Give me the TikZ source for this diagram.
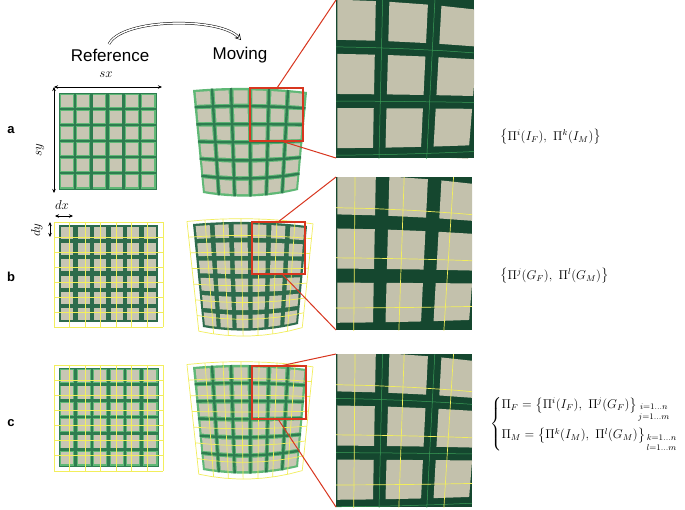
\documentclass[tikz,border=0pt]{standalone}
\usepackage{amsmath}
\usepackage{fontspec}
\newfontfamily\labfont{Liberation Sans}
\usetikzlibrary{arrows.meta}
\definecolor{cellc}{HTML}{C8C6B3}
\definecolor{pcell}{HTML}{C3C1AC}
\definecolor{gL}{HTML}{5FB876}
\definecolor{gD}{HTML}{2E7D50}
\definecolor{gB}{HTML}{2D6B4C}
\definecolor{gP}{HTML}{15472F}
\definecolor{gPl}{HTML}{3AA058}
\definecolor{yel}{HTML}{F2EE5C}
\definecolor{redb}{HTML}{D8361F}
\tikzset{
  hd/.style={font=\labfont\fontsize{17}{20}\selectfont, inner sep=0pt},
  lab/.style={font=\labfont\bfseries\fontsize{13}{15}\selectfont, inner sep=0pt},
  mth/.style={font=\fontsize{12}{14}\selectfont, inner sep=0pt, scale=1.08},
  fml/.style={font=\fontsize{12}{14}\selectfont, inner sep=0pt, anchor=west, scale=1.065},
  dim/.style={{Stealth[length=4pt,width=3.5pt]}-{Stealth[length=4pt,width=3.5pt]}, line width=0.6pt},
  yl/.style={yel, line width=0.7pt},
  redbox/.style={redb, line width=1.3pt},
  redl/.style={redb, line width=1pt},
  core/.style={gD, line width=2.4pt},
}
% reference grid
\newcommand\refgrid[5]{%
  \fill[#5] (#1,#2) rectangle ++(#3,#4);
  \foreach \i in {0,...,5}{\foreach \j in {0,...,5}{
    \fill[cellc] ({#1+(\i+0.13)*#3/6},{#2+(\j+0.13)*#4/6}) rectangle ({#1+(\i+0.87)*#3/6},{#2+(\j+0.87)*#4/6});}}}
\newcommand\reflines[5]{%
  \foreach \i in {1,...,5}{
    \draw[#5] ({#1+\i*#3/6},#2) -- ++(0,#4);
    \draw[#5] (#1,{#2+\i*#4/6}) -- ++(#3,0);}}
\newcommand\refyel[4]{%
  \foreach \k in {0,...,7}{
    \draw[yl] ({#1-0.05*#3+\k*1.1*#3/7},{#2-0.03*#4}) -- ++(0,{1.08*#4});
    \draw[yl] ({#1-0.05*#3},{#2-0.03*#4+\k*1.08*#4/7}) -- ++({1.1*#3},0);}}
% moving grid
\newcommand\movfill[2]{%
  \fill[#2] plot[domain=0:1,samples=13] ({MX(\x,0)},{MY(\x,0)+#1})
   -- plot[domain=0:1,samples=13] ({MX(1,\x)},{MY(1,\x)+#1})
   -- plot[domain=1:0,samples=13] ({MX(\x,1)},{MY(\x,1)+#1})
   -- plot[domain=1:0,samples=13] ({MX(0,\x)},{MY(0,\x)+#1}) -- cycle;}
\newcommand\movcells[2]{%
  \foreach \i in {0,...,5}{\foreach \j in {0,...,5}{
    \pgfmathsetmacro\ua{(\i+0.13)/6}\pgfmathsetmacro\ub{(\i+0.87)/6}%
    \pgfmathsetmacro\va{(\j+0.13)/6}\pgfmathsetmacro\vb{(\j+0.87)/6}%
    \fill[#2] ({MX(\ua,\va)},{MY(\ua,\va)+#1}) -- ({MX(\ub,\va)},{MY(\ub,\va)+#1})
      -- ({MX(\ub,\vb)},{MY(\ub,\vb)+#1}) -- ({MX(\ua,\vb)},{MY(\ua,\vb)+#1}) -- cycle;}}}
\newcommand\movlines[2]{%
  \foreach \i in {1,...,5}{
    \draw[#2] plot[domain=0:1,samples=9] ({MX(\i/6,\x)},{MY(\i/6,\x)+#1});
    \draw[#2] plot[domain=0:1,samples=9] ({MX(\x,\i/6)},{MY(\x,\i/6)+#1});}}
\newcommand\movyel[1]{%
  \foreach \k in {0,...,7}{
    \pgfmathsetmacro\tk{-0.05+\k*1.1/7}%
    \pgfmathsetmacro\tv{-0.03+\k*1.08/7}%
    \draw[yl] plot[domain=-0.03:1.05,samples=9] ({MX(\tk,\x)},{MY(\tk,\x)+#1});
    \draw[yl] plot[domain=-0.05:1.05,samples=9] ({MX(\x,\tv)},{MY(\x,\tv)+#1});}}
\begin{document}
\begin{tikzpicture}[x=1pt,y=-1pt,
  declare function={
    MX(\u,\v)=193+10*\v+\u*(114-19*\v);
    MY(\u,\v)=90+2*\u+\v*(103-5*\u)-12*\u*(1-\u)*(1-\v)+20*\u*(1-\u)*\v;
  }]
\useasboundingbox (0,0) rectangle (685,509);
\fill[white] (0,0) rectangle (685,509);

% headings
\node[hd] (tref) at (110,55) {Reference};
\node[hd] (tmov) at (240,55) {Moving};
\coordinate (ca) at (109,44);
\coordinate (cb) at (241,40);
\draw[line width=0.5pt, double=white, double distance=1.5pt, -{Stealth[open,length=6pt,width=7pt]}]
  (ca) .. controls (122,18) and (220,17) .. (cb);

% labels
\node[lab] (la) at (11,130) {a};
\node[lab] (lb) at (11,277) {b};
\node[lab] (lc) at (11,423) {c};

% dimensions
\node[mth] (tsx) at (106,75) {$sx$};
\node[mth,rotate=90] (tsy) at (40,150) {$sy$};
\coordinate (d0) at (54,87);
\coordinate (dxr) at (162,87);
\coordinate (dyb) at (54,193);
\draw[dim] (d0) -- (dxr);
\draw[dim] (d0) -- (dyb);
\node[mth] (tdx) at (62,205) {$dx$};
\node[mth,rotate=90] (tdy) at (37,230) {$dy$};
\coordinate (dxa) at (55,216);
\coordinate (dxb) at (73,216);
\draw[dim] (dxa) -- (dxb);
\coordinate (dya) at (50,222);
\coordinate (dyc) at (50,237);
\draw[dim] (dya) -- (dyc);

% ---- row a
\refgrid{59}{93}{97}{96}{gL}
\reflines{59}{93}{97}{96}{core}
\draw[gD,line width=0.5pt] (59,93) rectangle ++(97,96);
\movfill{0}{gL}
\movlines{0}{core}
\movcells{0}{cellc}
% ---- row b
\refgrid{59}{225}{99}{97}{gB}
\refyel{59}{225}{99}{97}
\movfill{134}{gB}
\movcells{134}{cellc}
\movyel{134}
% ---- row c
\refgrid{59}{368}{99}{98}{gL}
\reflines{59}{368}{99}{98}{core}
\draw[gD,line width=0.5pt] (59,368) rectangle ++(99,98);
\refyel{59}{368}{99}{98}
\movfill{277}{gL}
\movlines{277}{core}
\movcells{277}{cellc}
\movyel{277}

% ---- zoom panels
\begin{scope}
  \clip (336,0) rectangle (474,158);
  \fill[gP] (336,0) rectangle (474,158);
  \begin{scope}[shift={(336,0)},xscale=2.75,yscale=3,shift={(-252,-90.5)}]
    \movcells{0}{pcell}
    \movlines{0}{gPl,line width=0.5pt}
  \end{scope}
\end{scope}
\begin{scope}
  \clip (336,177) rectangle (472,330);
  \fill[gP] (336,177) rectangle (472,330);
  \begin{scope}[shift={(336,177)},xscale=2.75,yscale=3,shift={(-252,-225.3)}]
    \movcells{134}{pcell}
    \movyel{134}
  \end{scope}
\end{scope}
\begin{scope}
  \clip (336,354) rectangle (472,507);
  \fill[gP] (336,354) rectangle (472,507);
  \begin{scope}[shift={(336,354)},xscale=2.75,yscale=3,shift={(-252,-368.3)}]
    \movcells{277}{pcell}
    \movlines{277}{gPl,line width=0.5pt}
    \movyel{277}
  \end{scope}
\end{scope}

% ---- red boxes and connectors
\draw[redbox] (250,88) rectangle (303,141);
\draw[redbox] (252,222) rectangle (305,274);
\draw[redbox] (252,366) rectangle (306,419);
\coordinate (ra1) at (277,88);  \coordinate (pa1) at (336,0);
\coordinate (ra2) at (281,141); \coordinate (pa2) at (336,158);
\coordinate (rb1) at (278,222); \coordinate (pb1) at (336,177);
\coordinate (rb2) at (282,274); \coordinate (pb2) at (336,330);
\coordinate (rc1) at (280,366); \coordinate (pc1) at (336,354);
\coordinate (rc2) at (278,419); \coordinate (pc2) at (336,507);
\draw[redl] (ra1) -- (pa1);
\draw[redl] (ra2) -- (pa2);
\draw[redl] (rb1) -- (pb1);
\draw[redl] (rb2) -- (pb2);
\draw[redl] (rc1) -- (pc1);
\draw[redl] (rc2) -- (pc2);

% ---- formulas
\node[fml] (fa) at (500,137) {$\bigl\{\Pi^i(I_F),\ \Pi^k(I_M)\bigr\}$};
\node[fml] (fb) at (500,276) {$\bigl\{\Pi^j(G_F),\ \Pi^l(G_M)\bigr\}$};
\node[fml] (fc) at (490,424) {$\left\{\begin{array}{@{}l@{}}
  \Pi_F=\bigl\{\Pi^i(I_F),\ \Pi^j(G_F)\bigr\}_{\genfrac{}{}{0pt}{1}{i=1\ldots n}{j=1\ldots m}}\\[14pt]
  \Pi_M=\bigl\{\Pi^k(I_M),\ \Pi^l(G_M)\bigr\}_{\genfrac{}{}{0pt}{1}{k=1\ldots n}{l=1\ldots m}}
  \end{array}\right.$};
\end{tikzpicture}
\end{document}
